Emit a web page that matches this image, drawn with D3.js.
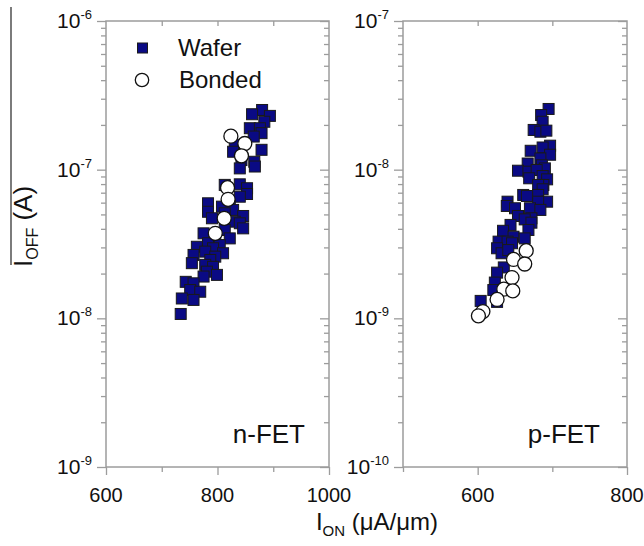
<!DOCTYPE html>
<html>
<head>
<meta charset="utf-8">
<script src="https://cdn.jsdelivr.net/npm/d3@7"></script>
<style>
  body { margin: 0; background: #fff; }
  text { font-family: "Liberation Sans", Arial, sans-serif; fill: #111; }
</style>
</head>
<body>
<svg id="chart" width="644" height="546"></svg>
<script>
// ---- n-FET measurements: I_ON (uA/um) vs I_OFF (A) ----
const nWaferIon = [880, 894, 862, 884, 858, 876, 879, 865, 831, 879, 828, 843, 866, 840, 867,
  813, 840, 853, 853, 840, 783, 822, 808, 783, 828, 846, 813, 790, 831, 840, 846, 775, 813, 822, 796,
  783, 804, 763, 792, 778, 810, 757, 796, 787, 754, 778, 792, 781, 799, 775, 743, 757, 751, 769, 736, 757, 734];
const nWaferIoff = [2.52e-7, 2.30e-7, 2.36e-7, 2.10e-7, 1.90e-7, 1.90e-7, 1.76e-7, 1.67e-7, 1.47e-7, 1.36e-7, 1.32e-7, 1.16e-7, 1.13e-7, 1.02e-7, 1.05e-7,
  7.9e-8, 7.97e-8, 7.5e-8, 6.86e-8, 6.58e-8, 5.94e-8, 5.78e-8, 5.64e-8, 5.21e-8, 5.36e-8, 4.88e-8, 5.09e-8, 4.71e-8, 4.47e-8, 4.36e-8, 4.03e-8, 3.73e-8, 3.93e-8, 3.45e-8, 3.37e-8,
  3.20e-8, 3.11e-8, 3.03e-8, 2.96e-8, 2.81e-8, 2.74e-8, 2.67e-8, 2.60e-8, 2.47e-8, 2.35e-8, 2.29e-8, 2.22e-8, 2.06e-8, 1.96e-8, 1.91e-8, 1.76e-8, 1.72e-8, 1.55e-8, 1.51e-8, 1.36e-8, 1.33e-8, 1.07e-8];
const nBondedIon = [824, 849, 843, 818, 819, 812, 796];
const nBondedIoff = [1.68e-7, 1.50e-7, 1.24e-7, 7.57e-8, 6.32e-8, 4.71e-8, 3.73e-8];

// ---- p-FET measurements ----
const pWaferIon = [695, 685, 687, 675, 684, 692, 697, 687, 671, 697,
  684, 667, 686, 654, 668, 690, 679, 687, 669, 693,
  688, 681, 687, 661, 666, 681, 640, 693, 681, 639,
  670, 650, 684, 654, 672, 663, 672, 644, 668, 634,
  648, 663, 628, 640, 626, 646, 632, 641, 635, 626,
  623, 621, 626, 604];
const pWaferIoff = [2.56e-8, 2.33e-8, 2.10e-8, 1.85e-8, 1.80e-8, 1.83e-8, 1.45e-8, 1.41e-8, 1.34e-8, 1.26e-8,
  1.19e-8, 1.10e-8, 1.07e-8, 9.84e-9, 9.69e-9, 1.02e-8, 9.95e-9, 9.06e-9, 8.75e-9, 8.61e-9,
  7.89e-9, 7.89e-9, 7.38e-9, 6.76e-9, 6.65e-9, 6.76e-9, 6.09e-9, 6.09e-9, 6.09e-9, 5.70e-9,
  5.50e-9, 5.50e-9, 5.36e-9, 4.88e-9, 4.71e-9, 4.63e-9, 4.40e-9, 4.25e-9, 3.93e-9, 3.88e-9,
  3.54e-9, 3.45e-9, 3.28e-9, 3.28e-9, 2.96e-9, 3.20e-9, 2.74e-9, 2.88e-9, 2.20e-9, 2.03e-9,
  1.74e-9, 1.55e-9, 1.29e-9, 1.31e-9];
const pBondedIon = [665, 648, 663, 646, 635, 647, 626, 607, 601];
const pBondedIoff = [2.85e-9, 2.49e-9, 2.32e-9, 1.88e-9, 1.57e-9, 1.53e-9, 1.34e-9, 1.11e-9, 1.04e-9];

// ---- axis ticks ----
const nXMajor = [600, 800, 1000];
const nXMinor = [700, 900];
const pXMajor = [600, 800];
const pXMinor = [500, 700];
const nYExponents = [-9, -8, -7, -6];
const pYExponents = [-10, -9, -8, -7];

const legendLabels = ["Wafer", "Bonded"];

const svg = d3.select("#chart");
const axisColor = "#9c9c9c";
const squareFill = "#0a0a84";
const plotTop = 21, plotBottom = 467;

const panels = [
  { x0: 106, x1: 329, xDomain: [600, 1000], exps: nYExponents, xMajor: nXMajor, xMinor: nXMinor,
    wIon: nWaferIon, wIoff: nWaferIoff, bIon: nBondedIon, bIoff: nBondedIoff, name: "n-FET", labelX: 305 },
  { x0: 403, x1: 627, xDomain: [500, 800], exps: pYExponents, xMajor: pXMajor, xMinor: pXMinor,
    wIon: pWaferIon, wIoff: pWaferIoff, bIon: pBondedIon, bIoff: pBondedIoff, name: "p-FET", labelX: 600 }
];

function minorValues(exps) {
  const out = [];
  for (let i = 0; i < exps.length - 1; i++) {
    for (let m = 2; m <= 9; m++) out.push(m * Math.pow(10, exps[i]));
  }
  return out;
}

function tickAxis(g, axis) {
  g.call(axis);
  g.select(".domain").remove();
  g.selectAll(".tick line").attr("stroke", axisColor).attr("stroke-width", 1.3);
}

panels.forEach(p => {
  const x = d3.scaleLinear().domain(p.xDomain).range([p.x0, p.x1]);
  const y = d3.scaleLog()
    .domain([Math.pow(10, p.exps[0]), Math.pow(10, p.exps[p.exps.length - 1])])
    .range([plotBottom, plotTop]);
  const majorsY = p.exps.map(e => Math.pow(10, e));
  const minorsY = minorValues(p.exps);
  const g = svg.append("g");

  // left and right y ticks (all pointing left)
  [p.x0, p.x1].forEach(xp => {
    tickAxis(g.append("g").attr("transform", `translate(${xp},0)`),
      d3.axisLeft(y).tickValues(majorsY).tickSize(9).tickFormat(""));
    tickAxis(g.append("g").attr("transform", `translate(${xp},0)`),
      d3.axisLeft(y).tickValues(minorsY).tickSize(5).tickFormat(""));
  });
  // bottom x ticks (outward) and top x ticks (inward)
  tickAxis(g.append("g").attr("transform", `translate(0,${plotBottom})`),
    d3.axisBottom(x).tickValues(p.xMajor).tickSize(8).tickFormat(""));
  tickAxis(g.append("g").attr("transform", `translate(0,${plotBottom})`),
    d3.axisBottom(x).tickValues(p.xMinor).tickSize(5).tickFormat(""));
  tickAxis(g.append("g").attr("transform", `translate(0,${plotTop})`),
    d3.axisBottom(x).tickValues(p.xMajor.concat(p.xMinor).filter(v => v > p.xDomain[0] && v < p.xDomain[1]))
      .tickSize(5).tickFormat(""));

  // frame
  g.append("rect")
    .attr("x", p.x0).attr("y", plotTop)
    .attr("width", p.x1 - p.x0).attr("height", plotBottom - plotTop)
    .attr("fill", "none").attr("stroke", axisColor).attr("stroke-width", 1.5);

  // y tick labels as powers of ten
  p.exps.forEach(e => {
    const t = g.append("text")
      .attr("x", p.x0 - 14).attr("y", y(Math.pow(10, e)) + 7)
      .attr("text-anchor", "end").attr("font-size", 21);
    t.append("tspan").text("10");
    t.append("tspan").attr("dy", -9).attr("font-size", 13).text("-" + Math.abs(e));
  });

  // x tick labels
  g.selectAll("text.xl").data(p.xMajor).enter().append("text")
    .attr("class", "xl")
    .attr("x", d => x(d)).attr("y", 502)
    .attr("text-anchor", "middle").attr("font-size", 20)
    .text(d => d);

  // wafer devices (squares)
  const wafer = p.wIon.map((v, i) => [v, p.wIoff[i]]);
  g.selectAll("rect.w").data(wafer).enter().append("rect")
    .attr("class", "w")
    .attr("x", d => x(d[0]) - 5.5).attr("y", d => y(d[1]) - 5.5)
    .attr("width", 11).attr("height", 11)
    .attr("fill", squareFill).attr("stroke", "#1a1a1a").attr("stroke-width", 1);

  // bonded devices (open circles)
  const bonded = p.bIon.map((v, i) => [v, p.bIoff[i]]);
  g.selectAll("circle.b").data(bonded).enter().append("circle")
    .attr("class", "b")
    .attr("cx", d => x(d[0])).attr("cy", d => y(d[1]))
    .attr("r", 7)
    .attr("fill", "#fff").attr("stroke", "#111").attr("stroke-width", 1.3);

  // panel label
  g.append("text")
    .attr("x", p.labelX).attr("y", 443)
    .attr("text-anchor", "end").attr("font-size", 26)
    .text(p.name);
});

// legend
const lg = svg.append("g");
lg.append("rect").attr("x", 137.5).attr("y", 43).attr("width", 10).attr("height", 10)
  .attr("fill", squareFill).attr("stroke", "#1a1a1a").attr("stroke-width", 1);
lg.append("circle").attr("cx", 142).attr("cy", 80).attr("r", 6.7)
  .attr("fill", "#fff").attr("stroke", "#111").attr("stroke-width", 1.3);
lg.append("text").attr("x", 178).attr("y", 56).attr("font-size", 24).text(legendLabels[0]);
lg.append("text").attr("x", 179).attr("y", 88).attr("font-size", 24).text(legendLabels[1]);

// x axis title
const xt = svg.append("text").attr("x", 377).attr("y", 530)
  .attr("text-anchor", "middle").attr("font-size", 24);
xt.append("tspan").text("I");
xt.append("tspan").attr("dy", 6).attr("font-size", 15).text("ON");
xt.append("tspan").attr("dy", -6).text(" (\u03BCA/\u03BCm)");

// y axis title, with its overline rule
svg.append("line").attr("x1", 11).attr("x2", 11).attr("y1", 7).attr("y2", 265)
  .attr("stroke", "#444").attr("stroke-width", 1.4);
const yt = svg.append("text").attr("transform", "translate(32,267) rotate(-90)")
  .attr("font-size", 26);
yt.append("tspan").text("I");
yt.append("tspan").attr("dy", 6).attr("font-size", 16).text("OFF");
yt.append("tspan").attr("dy", -6).text(" (A)");
</script>
</body>
</html>
